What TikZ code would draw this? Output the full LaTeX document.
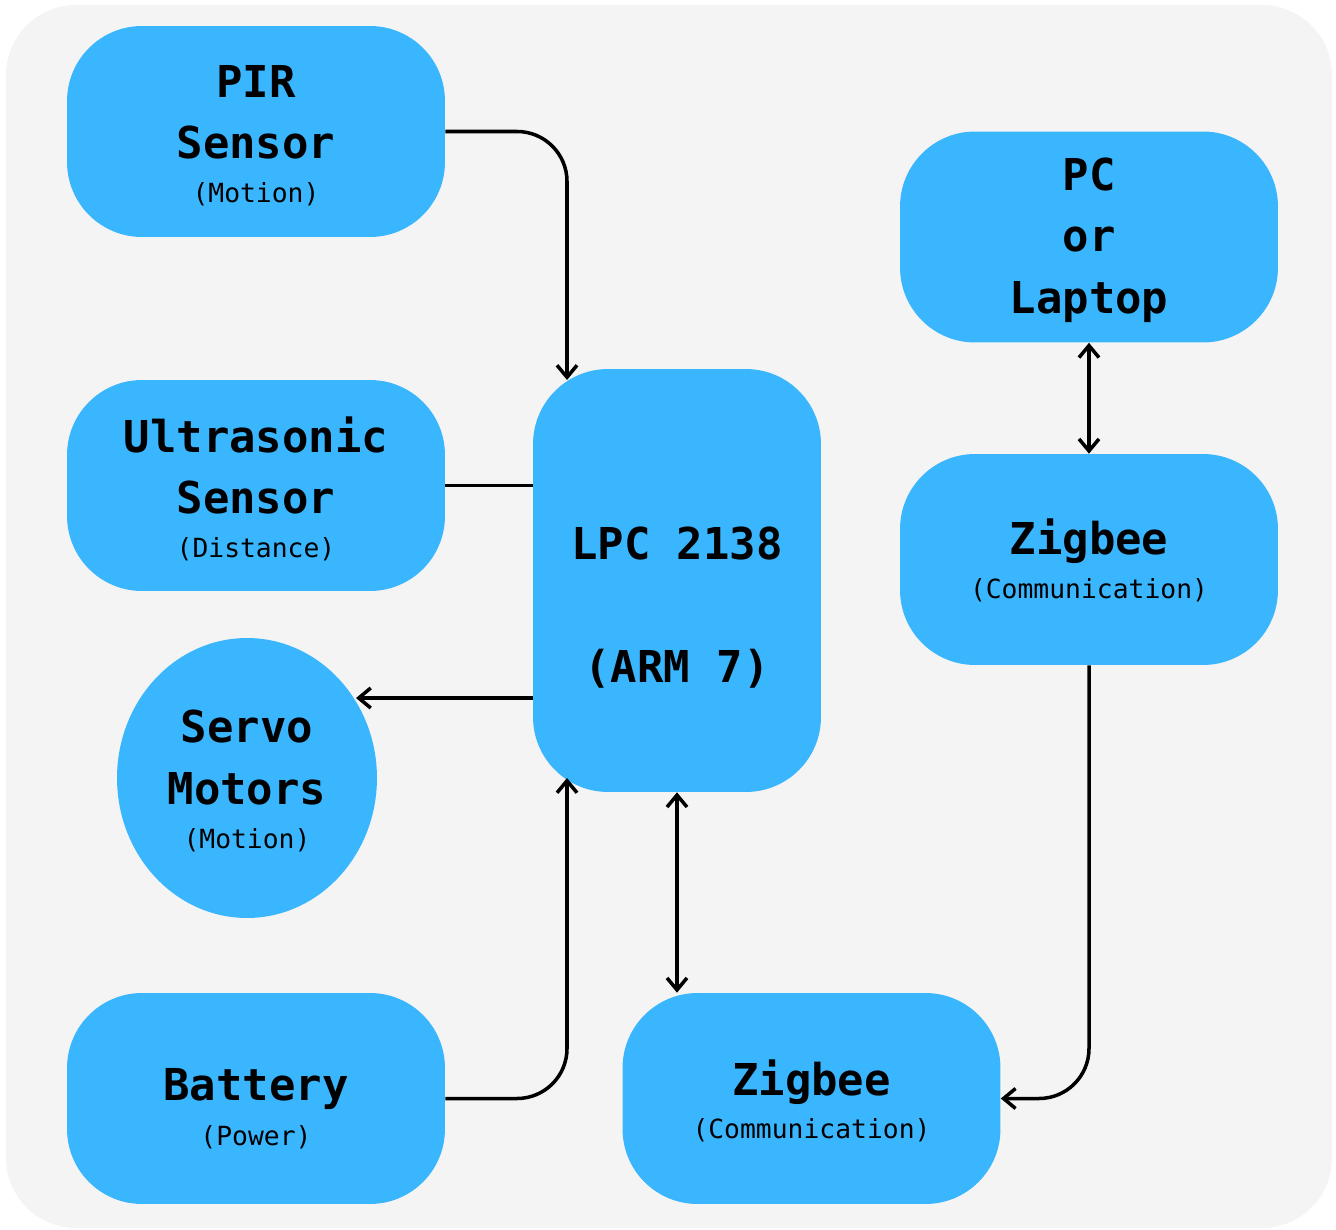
\documentclass[tikz,border=0pt]{standalone}
\usepackage{fontspec}
\setmonofont{DejaVu Sans Mono}
\usepackage{tikz}
\usetikzlibrary{arrows.meta,shapes.geometric}
\definecolor{boxblue}{HTML}{3AB6FF}
\definecolor{panel}{HTML}{F4F4F4}
\newcommand{\subline}[1]{{\fontsize{15}{18}\mdseries\selectfont #1}}
\newcommand{\lift}[1]{\rule{0pt}{#1}}
\begin{document}
\begin{tikzpicture}[x=0.02cm, y=-0.02cm,
      blk/.style={fill=boxblue, rounded corners=1.5cm, align=center, inner sep=0pt,
                  minimum width=7.56cm, minimum height=4.22cm,
                  font=\ttfamily\bfseries\fontsize{25}{35}\selectfont},
      oval/.style={blk, ellipse, minimum width=5.2cm, minimum height=5.6cm},
      arr/.style={-{Straight Barb[length=2.4mm, width=4mm]}, line width=2pt},
      biarr/.style={{Straight Barb[length=2.4mm, width=4mm]}-{Straight Barb[length=2.4mm, width=4mm]}, line width=2pt},
      wire/.style={line width=2pt, rounded corners=1cm}]
    \useasboundingbox (0,0) rectangle (1336,1230);
    \fill[panel, rounded corners=1.4cm] (6,5) rectangle (1332,1228);
    % sensors and power on the left
    \node[blk] (pir) at (256,131.5) {\lift{23pt}PIR\\Sensor\\[-10pt]\subline{(Motion)}};
    \node[blk] (ultra) at (256,485.5) {\lift{24pt}Ultrasonic\\Sensor\\[-10pt]\subline{(Distance)}};
    \node[oval] (servo) at (247,778) {\lift{22pt}Servo\\Motors\\[-10pt]\subline{(Motion)}};
    \node[blk] (battery) at (256,1098.5) {\lift{30pt}Battery\\[-9pt]\subline{(Power)}};
    % controller
    \node[blk, minimum width=5.76cm, minimum height=8.46cm] (lpc) at (677,580.5)
      {~\\[14pt]LPC 2138\\[35pt](ARM 7)};
    % radio link
    \node[blk] (pc) at (1089,237) {\lift{22pt}PC\\or\\Laptop};
    \node[blk] (zigr) at (1089,559.5) {\lift{21pt}Zigbee\\[-10pt]\subline{(Communication)}};
    \node[blk] (zigb) at (811.5,1098.5) {\lift{23pt}Zigbee\\[-10pt]\subline{(Communication)}};
    \coordinate (lpc in) at (567,380);
    \coordinate (lpc pwr) at (567,778);
    \coordinate (servo in) at (356,698);
    \draw[arr, wire] (pir.east) -| (lpc in);
    \draw[wire] (ultra.east) -- (lpc.west |- ultra.east);
    \draw[arr] (lpc.west |- servo in) -- (servo in);
    \draw[arr, wire] (battery.east) -| (lpc pwr);
    \draw[biarr] (lpc.south) -- (lpc.south |- zigb.north);
    \draw[biarr] (pc.south) -- (zigr.north);
    \draw[arr, wire] (zigr.south) |- (zigb.east);
  \end{tikzpicture}
\end{document}
